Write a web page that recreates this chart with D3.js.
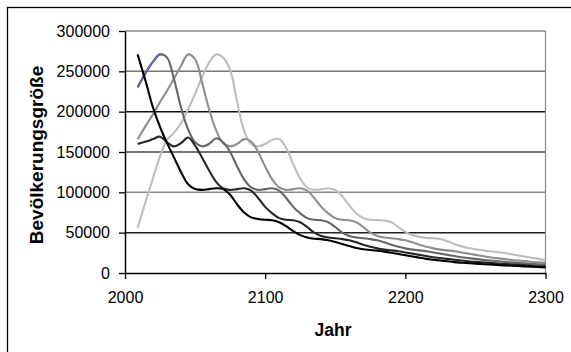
<!DOCTYPE html>
<html>
<head>
<meta charset="utf-8">
<script src="https://cdn.jsdelivr.net/npm/d3@7"></script>
<style>
  body { margin: 0; background: #fff; }
  svg text { font-family: "Liberation Sans", Arial, sans-serif; fill: #000; }
</style>
</head>
<body>
<div id="chart"></div>
<script>
// data
const years = [2009, 2015, 2020, 2025, 2030, 2035, 2040, 2045, 2050, 2055, 2060, 2065, 2070, 2075, 2080, 2085,
  2090, 2095, 2100, 2105, 2110, 2115, 2120, 2125, 2130, 2135, 2140, 2145, 2150, 2155, 2160, 2165, 2170, 2175,
  2180, 2185, 2190, 2195, 2200, 2205, 2210, 2215, 2220, 2225, 2230, 2235, 2240, 2245, 2250, 2260, 2270, 2280, 2290, 2300];

const serieA = [271000, 236000, 205000, 181000, 161000, 143000, 125000, 110000, 104000, 103000, 104000, 105000, 104000, 97000, 85000, 75000,
  69000, 67000, 66000, 65500, 63000, 58000, 52000, 47000, 44000, 42500, 42000, 40500, 38500, 36000, 33500, 31000, 29500, 28500,
  27500, 26500, 25000, 23500, 22000, 20500, 19000, 17500, 16500, 15500, 14500, 13500, 12800, 12200, 11600, 10500, 9500, 8700, 7800, 7000];

const serieE = [160000, 163000, 166000, 169000, 162000, 157000, 161000, 168000, 158000, 143000, 127000, 113000, 105000, 103000, 104000, 105000,
  102000, 93000, 82000, 74000, 68000, 66000, 65500, 63000, 57000, 50000, 46000, 44000, 43000, 42000, 40500, 38000, 35000, 32500,
  30500, 29000, 28000, 27000, 25500, 24000, 22500, 21000, 19500, 18500, 17500, 16500, 15500, 14500, 13800, 12500, 11300, 10200, 9000, 8200];

const serieB = [230000, 249000, 262000, 271000, 267000, 240000, 205000, 178000, 162000, 157000, 160000, 167000, 162000, 150000, 132000, 116000,
  106000, 103000, 104000, 105000, 102000, 93000, 82000, 74000, 68000, 66000, 65500, 63000, 57000, 50000, 46000, 44000, 43000, 42000,
  40500, 38000, 35000, 32500, 30500, 29000, 28000, 27000, 25500, 24000, 22500, 21000, 19500, 18500, 17500, 15500, 14000, 12500, 11300, 10200];

const serieC = [166000, 183000, 197000, 212000, 226000, 241000, 257000, 271000, 265000, 236000, 203000, 177000, 161000, 157000, 160000, 166000,
  163000, 150000, 132000, 116000, 106000, 103000, 104000, 105000, 102000, 93000, 82000, 74000, 68000, 66000, 65500, 63000, 57000, 50000,
  46000, 44000, 43000, 42000, 40500, 38000, 35000, 32500, 30500, 29000, 28000, 27000, 25500, 24000, 22500, 19500, 17500, 15500, 14000, 12500];

const serieD = [56000, 90000, 118000, 145000, 165000, 174000, 186000, 203000, 222000, 243000, 261000, 271000, 267000, 252000, 212000, 176000,
  160000, 157000, 160000, 165000, 166000, 155000, 135000, 117000, 106000, 103000, 104000, 105000, 103000, 95000, 84000, 74000, 68000, 66000,
  65500, 65000, 63000, 57000, 51000, 47000, 45000, 43500, 43000, 42000, 39500, 36000, 33000, 31000, 29500, 27000, 25000, 22000, 19000, 16000];

const yTicks = [0, 50000, 100000, 150000, 200000, 250000, 300000];
const xTicks = [2000, 2100, 2200, 2300];

const width = 571, height = 352;
const margin = { top: 31, right: 25.5, bottom: 79, left: 125 };

const svg = d3.select("#chart").append("svg")
    .attr("width", width)
    .attr("height", height);

// outer frame (right and bottom edges fall outside the picture)
svg.append("rect")
    .attr("x", 7.5).attr("y", 7.5)
    .attr("width", 700).attr("height", 500)
    .attr("fill", "none")
    .attr("stroke", "#000")
    .attr("stroke-width", 1.3);

const x = d3.scaleLinear().domain([2000, 2300]).range([margin.left, width - margin.right]);
const y = d3.scaleLinear().domain([0, 300000]).range([height - margin.bottom, margin.top]);

// gridlines, they come out in uneven greys in the original
const gridColors = ["#000", "#222", "#888", "#444", "#111", "#777", "#888"];
svg.append("g").selectAll("line")
    .data(yTicks.slice(1))
    .enter().append("line")
    .attr("x1", x(2000)).attr("x2", x(2300))
    .attr("y1", d => y(d)).attr("y2", d => y(d))
    .attr("stroke", (d, i) => gridColors[i + 1])
    .attr("stroke-width", 1.5);

// right edge of plot area
svg.append("line")
    .attr("x1", x(2300)).attr("x2", x(2300))
    .attr("y1", y(300000)).attr("y2", y(0))
    .attr("stroke", "#888")
    .attr("stroke-width", 1.2);

const seriesList = [
    { name: "D", values: serieD, color: "#bdbdbd" },
    { name: "C", values: serieC, color: "#8e8e8e" },
    { name: "B", values: serieB, color: "#666" },
    { name: "E", values: serieE, color: "#262626" },
    { name: "A", values: serieA, color: "#000" }
];

const line = d3.line()
    .x(d => x(d[0]))
    .y(d => y(d[1]))
    .curve(d3.curveCatmullRom.alpha(0.5));

svg.append("clipPath").attr("id", "blueClip")
    .append("rect")
    .attr("x", 0).attr("y", 0)
    .attr("width", x(2027)).attr("height", height);

seriesList.forEach(s => {
    const pts = years.map((yr, i) => [yr, s.values[i]]);
    svg.append("path")
        .datum(pts)
        .attr("fill", "none")
        .attr("stroke", s.color)
        .attr("stroke-width", 2.1)
        .attr("d", line);
    if (s.name === "B") {
        // first stretch of this series is drawn blueish
        svg.append("path")
            .datum(pts)
            .attr("fill", "none")
            .attr("stroke", "#6468a6")
            .attr("stroke-width", 2.1)
            .attr("clip-path", "url(#blueClip)")
            .attr("d", line);
    }
});

// axes
const yAxis = svg.append("g")
    .attr("transform", `translate(${x(2000)},0)`)
    .call(d3.axisLeft(y).tickValues(yTicks).tickSize(6).tickSizeOuter(0).tickPadding(9).tickFormat(d3.format("d")));

const xAxis = svg.append("g")
    .attr("transform", `translate(0,${y(0)})`)
    .call(d3.axisBottom(x).tickValues(xTicks).tickSize(6).tickSizeOuter(0).tickPadding(13).tickFormat(d3.format("d")));

[yAxis, xAxis].forEach(ax => {
    ax.select(".domain").attr("stroke", "#000").attr("stroke-width", 1.5);
    ax.selectAll(".tick line").attr("stroke", "#000").attr("stroke-width", 1.3);
    ax.selectAll("text")
        .style("font-family", "'Liberation Sans', Arial, sans-serif")
        .style("font-size", "16px")
        .attr("fill", "#000");
});

// axis titles
svg.append("text")
    .attr("x", 333)
    .attr("y", 336)
    .attr("text-anchor", "middle")
    .style("font-size", "17.5px")
    .style("font-weight", "bold")
    .text("Jahr");

svg.append("text")
    .attr("transform", "translate(43,155) rotate(-90)")
    .attr("text-anchor", "middle")
    .style("font-size", "19px")
    .style("font-weight", "bold")
    .text("Bevölkerungsgröße");
</script>
</body>
</html>
